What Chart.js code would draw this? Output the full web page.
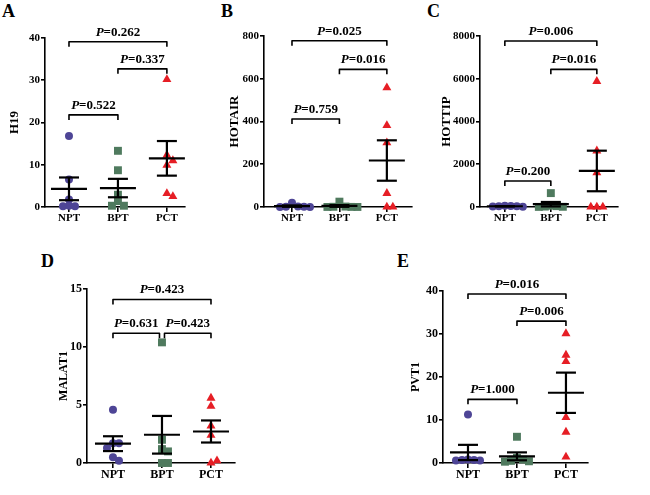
<!DOCTYPE html>
<html>
<head>
<meta charset="utf-8">
<script src="https://cdn.jsdelivr.net/npm/chart.js@4.4.0/dist/chart.umd.min.js"></script>
<style>
  body { margin: 0; background: #fff; width: 650px; height: 495px; position: relative; overflow: hidden; }
  .panel { position: absolute; }
  .tag { position: absolute; font: bold 18px "Liberation Serif", "Times New Roman", serif; line-height: 18px; color: #000; }
</style>
</head>
<body>
<div class="tag" style="left:2px;top:2px">A</div>
<div class="tag" style="left:221px;top:2px">B</div>
<div class="tag" style="left:427px;top:2px">C</div>
<div class="tag" style="left:41px;top:252px">D</div>
<div class="tag" style="left:397px;top:252px">E</div>

<script>
// groups on the x axis
const groups = ['NPT', 'BPT', 'PCT'];
const genes = ['H19', 'HOTAIR', 'HOTTIP', 'MALAT1', 'PVT1'];

// relative expression per sample, [NPT, BPT, PCT]
const H19 = [[16.8, 6.5, 1.8, 0.3, 0.2, 0.2], [13.3, 8.7, 2.9, 1.4, 0.3, 0.3], [30.2, 12.3, 11.0, 9.9, 3.2, 2.5]];
const HOTAIR = [[20, 2, 1, 1, 0.5, 0.5], [25, 2, 1, 0.5, 0.3, 0.2], [558, 382, 301, 64, 0, 0]];
const HOTTIP = [[60, 50, 40, 30, 20, 10], [650, 60, 40, 20, 10, 5], [5880, 2630, 1605, 0, 0, 0]];
const MALAT1 = [[4.6, 1.7, 1.7, 1.3, 0.5, 0.2], [10.4, 2.0, 1.2, 1.0, 0, 0], [5.6, 4.9, 3.2, 2.4, 0, 0.2]];
const PVT1 = [[11.3, 0.8, 0.7, 0.7, 0.6, 0.6], [6.1, 1.2, 0.8, 0.5, 0.4, 0.3], [30.1, 25.1, 23.6, 10.6, 7.2, 1.4]];

// P values between groups
const H19_P = [['NPT', 'PCT', '0.262'], ['BPT', 'PCT', '0.337'], ['NPT', 'BPT', '0.522']];
const HOTAIR_P = [['NPT', 'PCT', '0.025'], ['BPT', 'PCT', '0.016'], ['NPT', 'BPT', '0.759']];
const HOTTIP_P = [['NPT', 'PCT', '0.006'], ['BPT', 'PCT', '0.016'], ['NPT', 'BPT', '0.200']];
const MALAT1_P = [['NPT', 'PCT', '0.423'], ['NPT', 'BPT', '0.631'], ['BPT', 'PCT', '0.423']];
const PVT1_P = [['NPT', 'PCT', '0.016'], ['BPT', 'PCT', '0.006'], ['NPT', 'BPT', '1.000']];

// y axis ticks
const yMax = [40, 800, 8000, 15, 40];
const yStep = [10, 200, 2000, 5, 10];

const allValues = [H19, HOTAIR, HOTTIP, MALAT1, PVT1];
const allP = [H19_P, HOTAIR_P, HOTTIP_P, MALAT1_P, PVT1_P];

// where each panel sits and where its brackets go
const frames = [
  { left: 0, top: 0, w: 215, h: 235, padL: 0, yW: 45, padT: 38, xH: 28, padR: 30, xMin: 0.51, xMax: 3.37, titlePad: 7, tick: 11, title: 13, brackets: [39.1, 32.7, 21.8] },
  { left: 215, top: 0, w: 215, h: 235, padL: 0, yW: 49, padT: 36, xH: 28, padR: 18, xMin: 0.41, xMax: 3.53, titlePad: 12, tick: 11, title: 13, brackets: [778, 644, 412] },
  { left: 430, top: 0, w: 220, h: 235, padL: 0, yW: 50, padT: 36, xH: 28, padR: 32, xMin: 0.46, xMax: 3.46, titlePad: 9, tick: 11, title: 13, brackets: [7766, 6440, 1216] },
  { left: 0, top: 240, w: 330, h: 255, padL: 50, yW: 37, padT: 49, xH: 32, padR: 95, xMin: 0.47, xMax: 3.49, titlePad: 7, tick: 12, title: 12, brackets: [14.1, 11.18, 11.18] },
  { left: 330, top: 240, w: 320, h: 255, padL: 75, yW: 38, padT: 51, xH: 32, padR: 62, xMin: 0.49, xMax: 3.45, titlePad: 4, tick: 12, title: 12, brackets: [39.3, 33.0, 14.8] },
];

const markers = [
  { style: 'circle', radius: 4, color: '#4e4596' },
  { style: 'rect', radius: 5.6, color: '#4f7a5e' },
  { style: 'triangle', radius: 5.2, color: '#e61e25' },
];

const FONT = '"Liberation Serif", "Times New Roman", serif';
Chart.defaults.font.family = FONT;
Chart.defaults.font.weight = 'bold';
Chart.defaults.color = '#000';

const mean = a => a.reduce((s, v) => s + v, 0) / a.length;
const sem = a => {
  const m = mean(a);
  return Math.sqrt(a.reduce((s, v) => s + (v - m) ** 2, 0) / (a.length - 1) / a.length);
};

// simple beeswarm: push points sideways when they would overlap
function swarm(values, pxY, pxX) {
  const placed = [];
  const step = 6, near = 6;
  return values.map(v => {
    const py = v * pxY;
    let off = 0;
    for (let k = 0; k < 20; k++) {
      off = k === 0 ? 0 : (k % 2 ? (k + 1) / 2 : -k / 2) * step;
      if (!placed.some(p => Math.hypot(p[0] - off, p[1] - py) < near)) break;
    }
    placed.push([off, py]);
    return off / pxX;
  });
}

const bracketPlugin = {
  id: 'brackets',
  afterDatasetsDraw(chart, args, opts) {
    const { ctx, scales: { x, y } } = chart;
    const items = opts.items;
    ctx.save();
    ctx.strokeStyle = '#000';
    ctx.fillStyle = '#000';
    ctx.lineWidth = 1.6;
    ctx.lineJoin = 'round';
    items.forEach(([a, b, p], i) => {
      const h = opts.heights[i];
      let x1 = x.getPixelForValue(groups.indexOf(a) + 1);
      let x2 = x.getPixelForValue(groups.indexOf(b) + 1);
      // leave a small gap where two brackets meet at the same height
      items.forEach(([a2, b2], j) => {
        if (j === i || opts.heights[j] !== h) return;
        if (b === a2) x2 -= 2.5;
        if (a === b2) x1 += 2.5;
      });
      const yy = y.getPixelForValue(h);
      ctx.beginPath();
      ctx.moveTo(x1, yy + 5);
      ctx.lineTo(x1, yy);
      ctx.lineTo(x2, yy);
      ctx.lineTo(x2, yy + 5);
      ctx.stroke();

      const rest = '=' + p;
      ctx.font = `italic bold ${opts.size}px ${FONT}`;
      const wP = ctx.measureText('P').width;
      ctx.font = `bold ${opts.size}px ${FONT}`;
      const wR = ctx.measureText(rest).width;
      const sx = (x1 + x2) / 2 - (wP + wR) / 2;
      ctx.textAlign = 'left';
      ctx.textBaseline = 'alphabetic';
      ctx.font = `italic bold ${opts.size}px ${FONT}`;
      ctx.fillText('P', sx, yy - 6);
      ctx.font = `bold ${opts.size}px ${FONT}`;
      ctx.fillText(rest, sx + wP, yy - 6);
    });
    ctx.restore();
  }
};

frames.forEach((f, n) => {
  const canvas = document.createElement('canvas');
  canvas.className = 'panel';
  canvas.style.left = f.left + 'px';
  canvas.style.top = f.top + 'px';
  canvas.style.width = f.w + 'px';
  canvas.style.height = f.h + 'px';
  canvas.width = f.w;
  canvas.height = f.h;
  document.body.appendChild(canvas);

  const plotH = f.h - f.xH - f.padT;
  const plotW = f.w - f.padL - f.yW - f.padR;
  const pxY = plotH / yMax[n];
  const pxX = plotW / (f.xMax - f.xMin);

  const errorSets = allValues[n].map((vals, g) => {
    const m = mean(vals), s = sem(vals);
    return {
      data: [{ x: g + 1, y: m - s }, { x: g + 1, y: m }, { x: g + 1, y: m + s }],
      showLine: true,
      borderColor: '#000',
      borderWidth: 2.2,
      pointStyle: 'line',
      pointRadius: [10, 18, 10],
      pointBorderColor: '#000',
      pointBorderWidth: 2.2,
      clip: false,
    };
  });

  const pointSets = allValues[n].map((vals, g) => {
    const offs = swarm(vals, pxY, pxX);
    return {
      data: vals.map((v, i) => ({ x: g + 1 + offs[i], y: v })),
      pointStyle: markers[g].style,
      pointRadius: markers[g].radius,
      backgroundColor: markers[g].color,
      borderWidth: 0,
      pointBorderWidth: 0,
      clip: false,
    };
  });

  new Chart(canvas.getContext('2d'), {
    type: 'scatter',
    data: { datasets: [...errorSets, ...pointSets] },
    options: {
      responsive: false,
      animation: false,
      events: [],
      layout: { padding: { left: f.padL, top: f.padT, right: f.padR, bottom: 0 } },
      plugins: {
        legend: { display: false },
        tooltip: { enabled: false },
        brackets: { items: allP[n], heights: f.brackets, size: 13 },
      },
      scales: {
        x: {
          type: 'linear',
          min: f.xMin,
          max: f.xMax,
          afterBuildTicks: s => { s.ticks = groups.map((_, i) => ({ value: i + 1 })); },
          afterFit: s => { s.height = f.xH; },
          ticks: {
            callback: v => groups[v - 1] || '',
            font: { family: FONT, size: f.tick, weight: 'bold' },
            padding: 0,
            maxRotation: 0,
          },
          grid: { drawOnChartArea: false, drawTicks: true, tickLength: 5, color: '#000', lineWidth: 1.6 },
          border: { display: true, color: '#000', width: 1.6 },
        },
        y: {
          min: 0,
          max: yMax[n],
          afterFit: s => { s.width = f.yW; },
          ticks: {
            stepSize: yStep[n],
            callback: v => String(v),
            font: { family: FONT, size: f.tick, weight: 'bold' },
            padding: 1,
          },
          grid: { drawOnChartArea: false, drawTicks: true, tickLength: 4, color: '#000', lineWidth: 1.6 },
          border: { display: true, color: '#000', width: 1.6 },
          title: {
            display: true,
            text: genes[n],
            font: { family: FONT, size: f.title, weight: 'bold' },
            padding: { top: f.titlePad, bottom: 0 },
          },
        },
      },
    },
    plugins: [bracketPlugin],
  });
});
</script>
</body>
</html>
